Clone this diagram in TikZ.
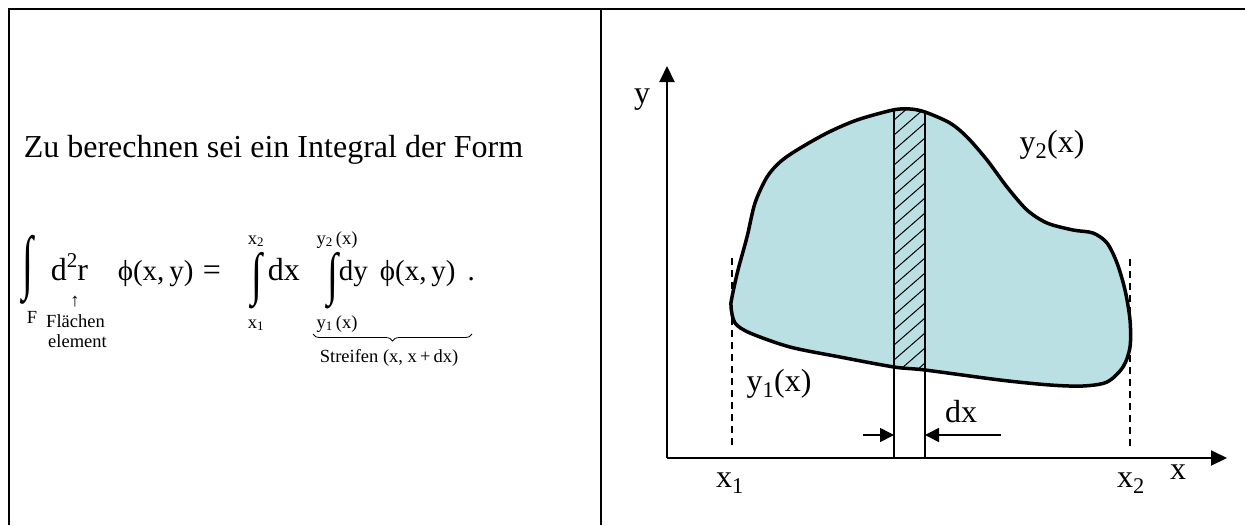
\documentclass[tikz,border=0pt]{standalone}
\usepackage{fontspec}
\setmainfont{Liberation Serif}
\usepackage{graphicx}
\usetikzlibrary{arrows.meta,decorations.pathreplacing}
\definecolor{areafill}{RGB}{187,224,227}
\newcommand\fbig{\fontsize{32}{38}\selectfont}
\newcommand\feq{\fontsize{29}{34}\selectfont}
\newcommand\fsmall{\fontsize{18.5}{20}\selectfont}
\newcommand\intsign[1]{\scalebox{1.25}[#1]{∫}}
\tikzset{
  lab/.style={font=\fbig,inner sep=0pt,anchor=base},
  sml/.style={font=\fsmall,inner sep=0pt,anchor=base},
  axis/.style={line width=2pt,-{Triangle[length=16pt,width=15pt]}},
  dimarrow/.style={line width=1.6pt,-{Triangle[length=14pt,width=14pt]}},
}
\begin{document}
\begin{tikzpicture}[x=1pt,y=-1pt,line width=1.6pt]
\useasboundingbox (0,0) rectangle (1245,525);
\draw[line width=2.2pt] (9,525) -- (9,9) -- (1245,9);
\draw[line width=2.2pt] (601,9) -- (601,525);

% linke Seite
\node[lab,anchor=base west] (intro) at (23,157) {Zu berechnen sei ein Integral der Form};
\node[lab,anchor=center] (int1) at (28,270) {\intsign{2.2}};
\node[sml] (gebiet) at (32,323) {F};
\node[lab,anchor=base west] (dr) at (50,280) {d\raisebox{0.4em}{\fontsize{21}{21}\selectfont 2}r};
\node[sml] (pfeil) at (75,306) {↑};
\node[sml] (fl1) at (75.5,327) {Flächen};
\node[sml] (fl2) at (77.5,347) {element};
\node[lab,anchor=base west,font=\feq] (phi1) at (117,280) {ϕ(x,\,y)};
\node[lab] (gleich) at (212,280) {=};
\node[lab,anchor=center] (int2) at (257,281) {\intsign{1.8}};
\node[sml] (xob) at (256,244) {x\textsubscript{2}};
\node[sml] (xun) at (256,328) {x\textsubscript{1}};
\node[lab,anchor=base west] (dxa) at (267,280) {dx};
\node[lab,anchor=center] (int3) at (333,281) {\intsign{1.8}};
\node[sml] (yob) at (337,244) {y\textsubscript{2}\,(x)};
\node[sml] (yun) at (337,328) {y\textsubscript{1}\,(x)};
\node[lab,anchor=base west,font=\feq] (dyphi) at (338,280) {dy\, ϕ(x,\,y)\, .};
\coordinate (bl) at (313,334);
\coordinate (br) at (472,334);
\draw[line width=0.8pt,decorate,decoration={brace,mirror,amplitude=7pt}] (bl) -- (br);
\node[sml] (streifen) at (389,362) {Streifen (x, x\,+\,dx)};

% rechte Seite
\fill[areafill,save path=\gebietpfad] plot[smooth cycle,tension=0.5] coordinates {
  (731,307) (732,297) (738,270) (747,237) (755,203) (767,177) (780,162) (797,150)
  (827,133) (857,120) (893,110) (910,109) (925,112) (950,123) (967,137) (987,160)
  (1007,187) (1027,210) (1047,223) (1073,230) (1093,233) (1107,243) (1117,263)
  (1125,290) (1130,320) (1130,347) (1123,367) (1107,382) (1083,386) (1050,385)
  (1000,380) (925,370) (894,367) (840,357) (790,347) (750,333) (735,323)};
\begin{scope}
  \clip[use path=\gebietpfad];
  \clip (894,100) rectangle (925,400);
  \foreach \h in {120,135,...,420}
    \draw[line width=1pt] (894,\h) -- (925,\h-27);
\end{scope}
\draw[line width=3.5pt,use path=\gebietpfad];

\coordinate (O) at (667,458);
\coordinate (ytip) at (667,66);
\coordinate (xtip) at (1227,458);
\draw[axis] (O) -- (ytip);
\draw[axis] (O) -- (xtip);

\coordinate (sl1) at (894,110);
\coordinate (sl2) at (894,458);
\coordinate (sr1) at (925,112);
\coordinate (sr2) at (925,458);
\draw (sl1) -- (sl2);
\draw (sr1) -- (sr2);

\coordinate (d1a) at (732,258);
\coordinate (d1b) at (732,448);
\coordinate (d2a) at (1130,259);
\coordinate (d2b) at (1130,448);
\draw[dashed,dash pattern=on 7pt off 5pt] (d1a) -- (d1b);
\draw[dashed,dash pattern=on 7pt off 5pt] (d2a) -- (d2b);

\coordinate (dxl) at (863,435);
\coordinate (dxsl) at (894,435);
\coordinate (dxsr) at (925,435);
\coordinate (dxr) at (1001,435);
\draw[dimarrow] (dxl) -- (dxsl);
\draw[dimarrow] (dxr) -- (dxsr);

\node[lab] (ylab) at (642,103) {y};
\node[lab] (y2lab) at (1052,152) {y\textsubscript{2}(x)};
\node[lab] (y1lab) at (779,391) {y\textsubscript{1}(x)};
\node[lab] (dxlab) at (961,422) {dx};
\node[lab] (x1lab) at (730,487) {x\textsubscript{1}};
\node[lab] (x2lab) at (1131,487) {x\textsubscript{2}};
\node[lab] (xlab) at (1178,479) {x};
\end{tikzpicture}
\end{document}
